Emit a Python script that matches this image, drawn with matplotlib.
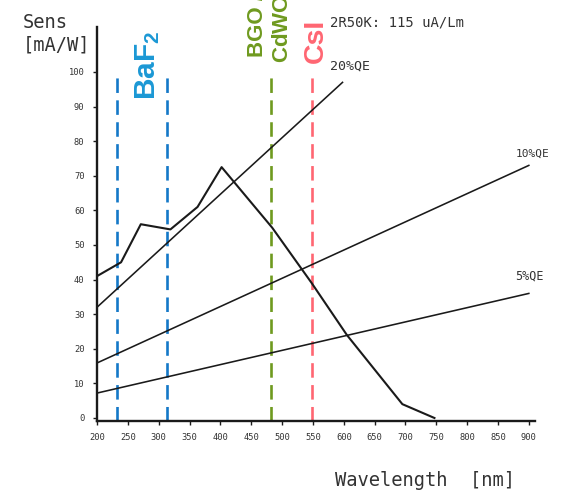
import matplotlib
matplotlib.use("Agg")
import matplotlib.pyplot as plt

# photocathode sensitivity curve (2R50K)
curve_nm = [200, 239, 271, 319, 363, 402, 484, 548, 605, 695, 747]
curve_sens = [41, 45, 56, 54.5, 61, 72.5, 55, 39, 24, 4, 0]

# constant quantum efficiency lines (end points)
qe20_nm = [200, 598]
qe20_sens = [32, 97]
qe10_nm = [200, 900]
qe10_sens = [15.9, 73]
qe5_nm = [200, 900]
qe5_sens = [7.2, 36]

# scintillator emission peaks
baf2_nm = [232, 313]
bgo_nm = [482]
csi_nm = [548]

x_ticks = [200, 250, 300, 350, 400, 450, 500, 550, 600, 650, 700, 750, 800, 850, 900]
y_ticks = [0, 10, 20, 30, 40, 50, 60, 70, 80, 90, 100]

W, H = 568, 497
MONO = "DejaVu Sans Mono"
SANS = "Liberation Sans"
INK = "#1a1a1a"

plt.rcParams["mathtext.fontset"] = "custom"
plt.rcParams["mathtext.rm"] = "Liberation Sans:bold"
plt.rcParams["mathtext.it"] = "Liberation Sans:bold"
plt.rcParams["mathtext.bf"] = "Liberation Sans:bold"


def px(x, y):
    # pixel position -> figure fraction
    return x / W, 1 - y / H


fig = plt.figure(figsize=(W / 100, H / 100), dpi=100)
ax = fig.add_axes([97 / W, 1 - 421 / H, (535 - 97) / W, (421 - 27) / H])
ax.set_xlim(200, 910)
ax.set_ylim(-0.87, 113)

for s in ["top", "right"]:
    ax.spines[s].set_visible(False)
for s in ["left", "bottom"]:
    ax.spines[s].set_linewidth(1.7)
    ax.spines[s].set_color(INK)

ax.set_xticks(x_ticks)
ax.set_yticks(y_ticks)
ax.set_xticklabels([str(v) for v in x_ticks], fontfamily=MONO, fontsize=6.3, color="#333333")
ax.set_yticklabels([str(v) for v in y_ticks], fontfamily=MONO, fontsize=6.3, color="#333333")
ax.tick_params(axis="both", direction="out", length=3, width=1, color=INK)
ax.tick_params(axis="x", pad=6)
ax.tick_params(axis="y", pad=6)

# dashed emission lines
dash = dict(lw=1.9, linestyle=(0, (5.5, 2.8)))
for x in baf2_nm:
    ax.plot([x, x], [-0.87, 100], color="#1478c8", **dash)
for x in bgo_nm:
    ax.plot([x, x], [-0.87, 100], color="#6f9a1f", **dash)
for x in csi_nm:
    ax.plot([x, x], [-0.87, 100], color="#ff6672", **dash)

# curves
ax.plot(qe20_nm, qe20_sens, color=INK, lw=1.15)
ax.plot(qe10_nm, qe10_sens, color=INK, lw=1.15)
ax.plot(qe5_nm, qe5_sens, color=INK, lw=1.15)
ax.plot(curve_nm, curve_sens, color=INK, lw=1.5)

# scintillator labels (the top of the BGO / CdWO4 label runs off the page, as in the scan)
lab = dict(rotation=90, rotation_mode="anchor", ha="left", va="baseline",
           fontfamily=SANS, fontweight="bold")
fig.text(*px(155, 100), "BaF$_2$", color="#1b98d5", fontsize=21.5, **lab)
fig.text(*px(263, 57), "BGO /", color="#6f9a1f", fontsize=16, **lab)
fig.text(*px(288, 63), "CdWO$_4$", color="#6f9a1f", fontsize=16, **lab)
fig.text(*px(323, 63), "CsI", color="#ff6672", fontsize=20.5, **lab)

# plain labels
txt = dict(fontfamily=MONO, color="#333333", va="center", ha="left")
fig.text(*px(23, 23), "Sens", fontsize=13.5, **txt)
fig.text(*px(23, 45), "[mA/W]", fontsize=13.5, **txt)
fig.text(*px(330, 22), "2R50K: 115 uA/Lm", fontsize=10, **txt)
fig.text(*px(330, 66), "20%QE", fontsize=9.5, **txt)
fig.text(*px(516, 154), "10%QE", fontsize=8, **txt)
fig.text(*px(515, 276), "5%QE", fontsize=8.5, **txt)
fig.text(*px(335, 480), "Wavelength  [nm]", fontsize=13.5, **txt)

fig.savefig("out.png", dpi=100)
